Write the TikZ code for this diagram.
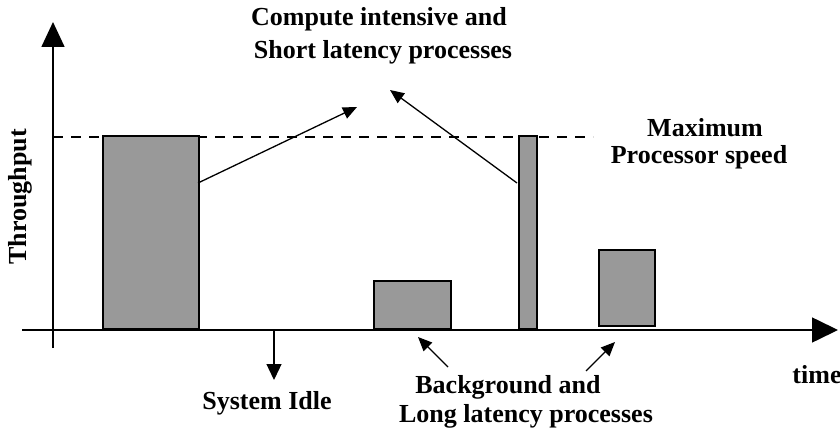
\documentclass[tikz,border=0pt]{standalone}
\usepackage{fontspec}
\setmainfont{Liberation Serif}
\usetikzlibrary{arrows.meta}
\definecolor{barfill}{RGB}{153,153,153}

\begin{document}
\begin{tikzpicture}[x=1pt,y=-1pt,line width=1.6pt,
    bar/.style={draw,fill=barfill,line width=1.6pt,inner sep=0pt,anchor=south west},
    lbl/.style={font=\bfseries\fontsize{26}{30}\selectfont,inner sep=0pt},
    pointer/.style={-{Triangle[length=14pt,width=12pt]},line width=1.3pt}]

    % white page with the size of the reference
    \useasboundingbox[fill=white] (0,0) rectangle (840,438);

    % draw axes
    \coordinate (origin) at (53,330);
    \coordinate (ytop) at (53,22);
    \coordinate (xend) at (838,330);
    \draw [-{Triangle[length=25pt,width=23pt]}] (53,348) -- (ytop);
    \draw [-{Triangle[length=26pt,width=25pt]}] (22,330) -- (xend);

    % maximum processor speed
    \draw [dashed,dash pattern=on 10pt off 8pt,line width=1.4pt] (53,137) -- (593,137);

    % busy periods
    \node [bar,minimum width=96pt,minimum height=193pt] (burst1) at (102,330) {};
    \node [bar,minimum width=77pt,minimum height=48pt] (bg1) at (373,330) {};
    \node [bar,minimum width=18pt,minimum height=193pt] (burst2) at (518,330) {};
    \node [bar,minimum width=56pt,minimum height=76pt] (bg2) at (598,327) {};

    % labels
    \node [lbl] (compute) at (379,19) {Compute intensive and};
    \node [lbl] (short) at (383,52) {Short latency processes};
    \node [lbl] (maxspeed) at (705,128) {Maximum};
    \node [lbl] (procspeed) at (699,157) {Processor speed};
    \node [lbl,rotate=90] (ylabel) at (20,197) {Throughput};
    \node [lbl] (time) at (817,375) {time};
    \node [lbl] (idle) at (267,403) {System Idle};
    \node [lbl] (background) at (508,387) {Background and};
    \node [lbl] (long) at (526,416) {Long latency processes};

    % pointers
    \coordinate (c1) at (198,183);
    \coordinate (c1tip) at (357,107);
    \coordinate (c2) at (517,183);
    \coordinate (c2tip) at (390,90);
    \coordinate (idletop) at (274,330);
    \coordinate (idletip) at (274,380);
    \coordinate (b1) at (448,367);
    \coordinate (b1tip) at (418,337);
    \coordinate (b2) at (586,371);
    \coordinate (b2tip) at (615,342);
    \draw [pointer] (c1) -- (c1tip);
    \draw [pointer] (c2) -- (c2tip);
    \draw [pointer,-{Triangle[length=16pt,width=15pt]}] (idletop) -- (idletip);
    \draw [pointer] (b1) -- (b1tip);
    \draw [pointer] (b2) -- (b2tip);

\end{tikzpicture}
\end{document}
